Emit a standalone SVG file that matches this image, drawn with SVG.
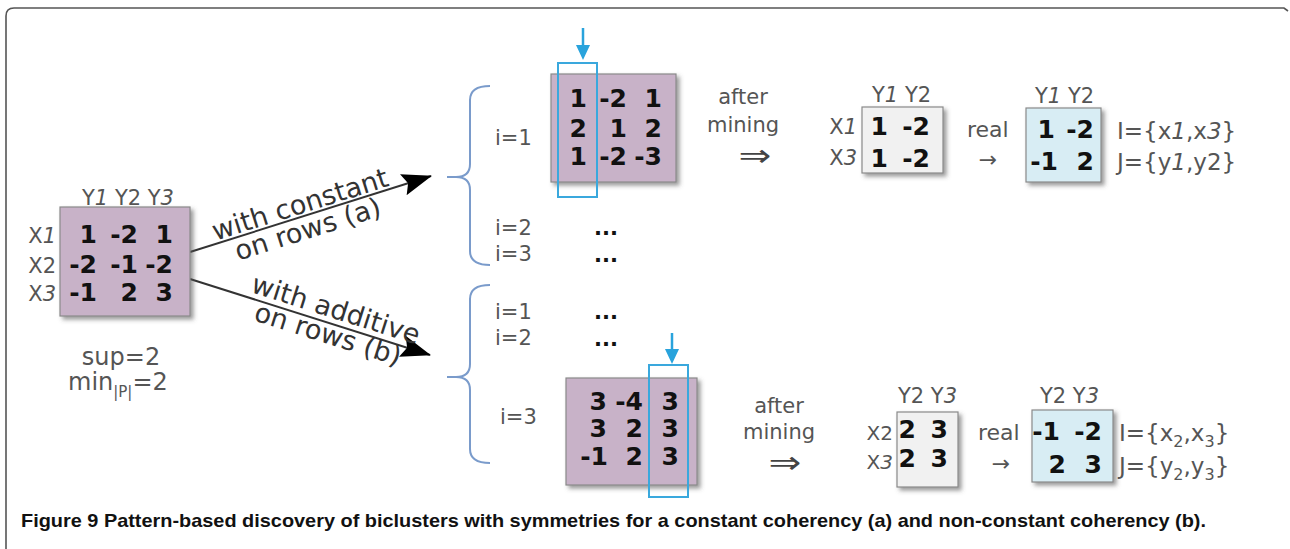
<svg xmlns="http://www.w3.org/2000/svg" width="1290" height="549" viewBox="0 0 1290 549">
<defs>
<filter id="sh" x="-10%" y="-10%" width="125%" height="125%">
<feDropShadow dx="3" dy="3" stdDeviation="2.2" flood-color="#555" flood-opacity="0.6"/>
</filter>
<marker id="ah" viewBox="0 0 30 22" refX="29" refY="11" markerWidth="30" markerHeight="22" markerUnits="userSpaceOnUse" orient="auto">
<path d="M0,0 L30,11 L0,22 L5,11 Z" fill="#000"/>
</marker>
<style>
.lbl{font-family:"DejaVu Sans",Verdana,sans-serif;font-size:21px;fill:#555}
.val{font-family:"DejaVu Sans",Verdana,sans-serif;font-size:25px;font-weight:bold;fill:#111;text-anchor:end}
.big{font-family:"DejaVu Sans",Verdana,sans-serif;font-size:27px;fill:#333;text-anchor:middle}
.arr{font-family:"DejaVu Sans",Verdana,sans-serif;font-size:28px;fill:#444;text-anchor:middle}
.mid{text-anchor:middle}
.end{text-anchor:end}
.it{font-style:italic}
.pur{fill:#c8b2c8;stroke:#8a8a8a;stroke-width:1.2}
.gry{fill:#f1f1f1;stroke:#8a8a8a;stroke-width:1.2}
.blu{fill:#d8edf4;stroke:#8a8a8a;stroke-width:1.2}
.hl{fill:none;stroke:#3aa8dd;stroke-width:2}
.brace{fill:none;stroke:#7a9bcb;stroke-width:2}
.conn{stroke:#333;stroke-width:2;fill:none}
</style>
</defs>
<rect width="1290" height="549" fill="#fff"/>
<path d="M6,549 V16 Q6,8 14,8 H1284 L1288,11" fill="none" stroke="#555" stroke-width="1.6"/>

<g id="connectors">
<line class="conn" x1="190" y1="252" x2="431" y2="176" marker-end="url(#ah)"/>
<line class="conn" x1="190" y1="279" x2="430" y2="355" marker-end="url(#ah)"/>
<g transform="translate(304,217) rotate(-17.5)">
<text class="big" x="0" y="-4">with constant</text>
<text class="big" x="0" y="22">on rows (a)</text>
</g>
<g transform="translate(332,322) rotate(17.6)">
<text class="big" x="0" y="-4">with additive</text>
<text class="big" x="0" y="22">on rows (b)</text>
</g>
<path class="brace" d="M490,86 Q470,86 470,100 L470,164 Q470,177 456,177 L447,177 M456,177 Q470,177 470,190 L470,251 Q470,265 490,265"/>
<path class="brace" d="M490,285 Q470,285 470,299 L470,364 Q470,377 456,377 L447,377 M456,377 Q470,377 470,390 L470,449 Q470,463 490,463"/>
<g fill="#29a3dc" stroke="#29a3dc">
<line x1="583" y1="28" x2="583" y2="46" stroke-width="2.5"/>
<polygon points="576,45 590,45 583,60" stroke="none"/>
<line x1="672" y1="333" x2="672" y2="350" stroke-width="2.5"/>
<polygon points="665,349 679,349 672,364" stroke="none"/>
</g>
</g>

<g id="input-matrix">
<text class="lbl" x="82" y="205">Y<tspan class="it">1</tspan> Y2 Y<tspan class="it">3</tspan></text>
<rect class="pur" x="60" y="207" width="130" height="109" filter="url(#sh)"/>
<text class="lbl end" x="56" y="243">X<tspan class="it">1</tspan></text>
<text class="lbl end" x="56" y="273">X2</text>
<text class="lbl end" x="56" y="301">X<tspan class="it">3</tspan></text>
<text class="val" x="97" y="243">1</text><text class="val" x="138" y="243">-2</text><text class="val" x="173" y="243">1</text>
<text class="val" x="97" y="273">-2</text><text class="val" x="138" y="273">-1</text><text class="val" x="173" y="273">-2</text>
<text class="val" x="97" y="301">-1</text><text class="val" x="138" y="301">2</text><text class="val" x="173" y="301">3</text>
<text class="lbl mid" x="121" y="365" style="font-size:24px">sup=2</text>
<text class="lbl" x="68" y="390" style="font-size:24px">min<tspan dy="7" style="font-size:15px">|P|</tspan><tspan dy="-7">=2</tspan></text>
</g>

<g id="branch-a">
<text class="lbl" x="495" y="145">i=1</text>
<rect class="pur" x="551" y="74" width="125" height="108" filter="url(#sh)"/>
<text class="val" x="587" y="107">1</text><text class="val" x="627" y="107">-2</text><text class="val" x="662" y="107">1</text>
<text class="val" x="587" y="137">2</text><text class="val" x="627" y="137">1</text><text class="val" x="662" y="137">2</text>
<text class="val" x="587" y="165">1</text><text class="val" x="627" y="165">-2</text><text class="val" x="662" y="165">-3</text>
<rect class="hl" x="558" y="63" width="39" height="134"/>
<text class="lbl" x="495" y="235">i=2</text>
<text class="lbl" x="495" y="261">i=3</text>
<text class="val" x="618" y="235" style="font-size:21px">...</text>
<text class="val" x="618" y="262" style="font-size:21px">...</text>
</g>

<g id="result-a">
<text class="lbl mid" x="743" y="104">after</text>
<text class="lbl mid" x="743" y="132">mining</text>
<text class="arr" transform="translate(755,166) scale(1.4,1.1)">⇒</text>
<text class="lbl" x="872" y="102">Y<tspan class="it">1</tspan> Y2</text>
<rect class="gry" x="862" y="107" width="81" height="66" filter="url(#sh)"/>
<text class="lbl end" x="857" y="134">X<tspan class="it">1</tspan></text>
<text class="lbl end" x="857" y="165">X<tspan class="it">3</tspan></text>
<text class="val" x="888" y="135">1</text><text class="val" x="930" y="135">-2</text>
<text class="val" x="888" y="167">1</text><text class="val" x="930" y="167">-2</text>
<text class="lbl" x="967" y="137" style="font-size:22px">real</text>
<text class="lbl mid" x="988" y="167" style="font-size:22px">→</text>
<text class="lbl" x="1035" y="103">Y<tspan class="it">1</tspan> Y2</text>
<rect class="blu" x="1026" y="108" width="75" height="74" filter="url(#sh)"/>
<text class="val" x="1055" y="138">1</text><text class="val" x="1094" y="138">-2</text>
<text class="val" x="1058" y="170">-1</text><text class="val" x="1094" y="170">2</text>
<text class="lbl" x="1117" y="139" style="font-size:23px">I={x<tspan class="it">1</tspan>,x<tspan class="it">3</tspan>}</text>
<text class="lbl" x="1117" y="170" style="font-size:23px">J={y<tspan class="it">1</tspan>,y2}</text>
</g>

<g id="branch-b">
<text class="lbl" x="495" y="319">i=1</text>
<text class="lbl" x="495" y="345">i=2</text>
<text class="val" x="618" y="319" style="font-size:21px">...</text>
<text class="val" x="618" y="346" style="font-size:21px">...</text>
<text class="lbl" x="500" y="424">i=3</text>
<rect class="pur" x="566" y="378" width="131" height="107" filter="url(#sh)"/>
<text class="val" x="607" y="410">3</text><text class="val" x="643" y="410">-4</text><text class="val" x="679" y="410">3</text>
<text class="val" x="607" y="437">3</text><text class="val" x="643" y="437">2</text><text class="val" x="679" y="437">3</text>
<text class="val" x="608" y="465">-1</text><text class="val" x="643" y="465">2</text><text class="val" x="679" y="465">3</text>
<rect class="hl" x="649" y="365" width="39" height="132"/>
</g>

<g id="result-b">
<text class="lbl mid" x="779" y="413">after</text>
<text class="lbl mid" x="779" y="439">mining</text>
<text class="arr" transform="translate(785,473) scale(1.4,1.1)">⇒</text>
<text class="lbl" x="898" y="403">Y2 Y<tspan class="it">3</tspan></text>
<rect class="gry" x="897" y="412" width="61" height="75" filter="url(#sh)"/>
<text class="lbl end" x="893" y="440" style="font-size:20px">X2</text>
<text class="lbl end" x="893" y="469" style="font-size:20px">X<tspan class="it">3</tspan></text>
<text class="val" x="916" y="438">2</text><text class="val" x="948" y="438">3</text>
<text class="val" x="916" y="467">2</text><text class="val" x="948" y="467">3</text>
<text class="lbl" x="978" y="440" style="font-size:22px">real</text>
<text class="lbl mid" x="1001" y="471" style="font-size:22px">→</text>
<text class="lbl" x="1040" y="403">Y2 Y<tspan class="it">3</tspan></text>
<rect class="blu" x="1032" y="410" width="81" height="72" filter="url(#sh)"/>
<text class="val" x="1060" y="440">-1</text><text class="val" x="1102" y="440">-2</text>
<text class="val" x="1066" y="473">2</text><text class="val" x="1102" y="473">3</text>
<text class="lbl" x="1119" y="441" style="font-size:23px">I={x<tspan dy="6" style="font-size:16px">2</tspan><tspan dy="-6">,x</tspan><tspan dy="6" style="font-size:16px">3</tspan><tspan dy="-6">}</tspan></text>
<text class="lbl" x="1119" y="474" style="font-size:23px">J={y<tspan dy="6" style="font-size:16px">2</tspan><tspan dy="-6">,y</tspan><tspan dy="6" style="font-size:16px">3</tspan><tspan dy="-6">}</tspan></text>
</g>

<text x="21" y="527" textLength="1185" lengthAdjust="spacingAndGlyphs" style="font-family:'Liberation Sans',Arial,sans-serif;font-size:19px;font-weight:bold;fill:#111">Figure 9 Pattern-based discovery of biclusters with symmetries for a constant coherency (a) and non-constant coherency (b).</text>
</svg>
